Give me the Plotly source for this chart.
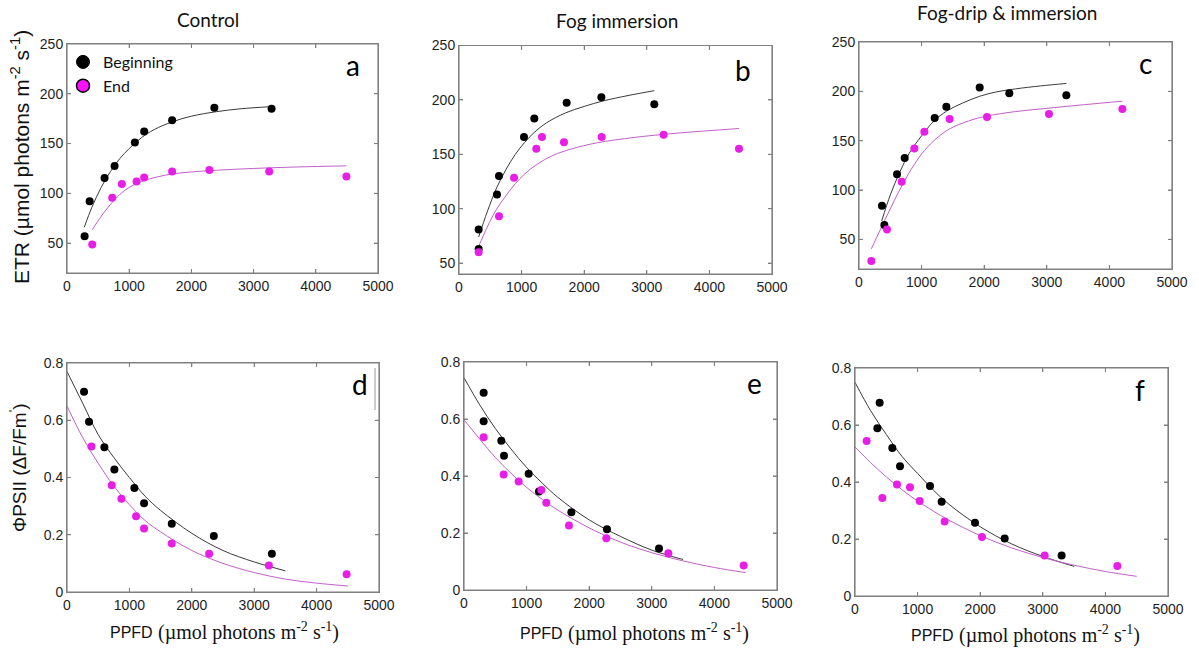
import plotly.graph_objects as go

W, H = 1199, 648

# ---------------- data ----------------
a_beg_x = [283, 364, 604, 765, 1091, 1241, 1690, 2369, 3289]
a_beg_y = [57, 92, 115.5, 127.5, 151, 162, 173.5, 186, 185]
a_end_x = [406, 727, 882, 1118, 1241, 1690, 2289, 3251, 4492]
a_end_y = [48.5, 95.5, 109.5, 112, 116, 122, 123.5, 122, 117]
a_fitb_x = [278, 400, 550, 700, 850, 1000, 1200, 1400, 1700, 2000, 2400, 2800, 3262]
a_fitb_y = [66, 86, 106, 122, 135, 145, 156, 164, 172, 177.5, 182, 185, 187]
a_fite_x = [406, 550, 700, 850, 1000, 1200, 1450, 1700, 2000, 2400, 3000, 3700, 4492]
a_fite_y = [63.4, 77, 89, 99, 106, 112, 116.5, 119.5, 121.5, 123.2, 125, 126.5, 127.6]

b_beg_x = [314, 314, 607, 639, 1038, 1203, 1720, 2274, 3120]
b_beg_y = [81, 63, 113, 130, 166, 183, 197.5, 202.5, 196]
b_end_x = [314, 639, 879, 1235, 1326, 1677, 2279, 3269, 4473]
b_end_y = [60, 93, 128.5, 155, 166, 161, 166, 168, 155]
b_fitb_x = [314, 450, 600, 750, 900, 1050, 1200, 1400, 1700, 2000, 2300, 2700, 3120]
b_fitb_y = [74, 97, 119, 136, 150, 161, 170, 179, 188, 194, 199, 204, 208.5]
b_fite_x = [314, 450, 600, 750, 900, 1050, 1250, 1500, 1800, 2200, 2800, 3500, 4473]
b_fite_y = [65.3, 83, 99.5, 112, 123, 132, 141, 149, 155, 160.5, 165.5, 169.5, 173.7]

c_beg_x = [367, 405, 607, 730, 1209, 1395, 1928, 2401, 3312]
c_beg_y = [84, 64.5, 116, 132.5, 173, 184.5, 204, 198, 196]
c_end_x = [197, 447, 682, 884, 1044, 1448, 2045, 3035, 4207]
c_end_y = [28, 60, 108.5, 142, 159, 172, 174, 177, 182]
c_fitb_x = [362, 500, 650, 800, 1000, 1200, 1400, 1650, 1928, 2200, 2500, 2900, 3312]
c_fitb_y = [68.6, 95, 118, 137, 155, 170, 180, 188, 195, 199.5, 202.5, 205.5, 208]
c_fite_x = [197, 447, 682, 884, 1044, 1250, 1448, 1750, 2045, 2500, 3035, 3600, 4207]
c_fite_y = [40.5, 74, 104, 126, 140, 153, 162, 170, 175, 179.5, 183, 186.5, 190]

d_beg_x = [273, 353, 599, 759, 1080, 1235, 1679, 2353, 3283]
d_beg_y = [0.70, 0.595, 0.506, 0.428, 0.363, 0.31, 0.238, 0.196, 0.134]
d_end_x = [392, 717, 872, 1107, 1235, 1679, 2278, 3235, 4481]
d_end_y = [0.508, 0.373, 0.326, 0.265, 0.222, 0.169, 0.134, 0.093, 0.062]
d_fitb_x = [0, 250, 500, 750, 1000, 1250, 1500, 2000, 2500, 3000, 3500]
d_fitb_y = [0.77, 0.66, 0.55, 0.47, 0.40, 0.335, 0.285, 0.205, 0.145, 0.105, 0.074]
d_fite_x = [0, 250, 500, 750, 1000, 1250, 1500, 2000, 2500, 3000, 3500, 4000, 4500]
d_fite_y = [0.65, 0.54, 0.45, 0.37, 0.305, 0.25, 0.21, 0.145, 0.10, 0.068, 0.045, 0.031, 0.021]

e_beg_x = [314, 314, 596, 639, 1033, 1198, 1715, 2284, 3115]
e_beg_y = [0.692, 0.592, 0.524, 0.471, 0.408, 0.346, 0.273, 0.213, 0.146]
e_end_x = [314, 634, 873, 1235, 1315, 1677, 2274, 3264, 4468]
e_end_y = [0.536, 0.405, 0.381, 0.351, 0.306, 0.226, 0.182, 0.129, 0.086]
e_fitb_x = [0, 250, 500, 750, 1000, 1250, 1500, 2000, 2500, 3000, 3500]
e_fitb_y = [0.745, 0.65, 0.567, 0.495, 0.43, 0.375, 0.325, 0.246, 0.188, 0.14, 0.107]
e_fite_x = [0, 250, 500, 750, 1000, 1250, 1500, 2000, 2500, 3000, 3500, 4000, 4500]
e_fite_y = [0.597, 0.53, 0.465, 0.41, 0.36, 0.318, 0.28, 0.218, 0.168, 0.131, 0.102, 0.079, 0.061]

f_beg_x = [357, 394, 596, 719, 1198, 1384, 1917, 2391, 3301]
f_beg_y = [0.589, 0.678, 0.519, 0.455, 0.386, 0.331, 0.257, 0.202, 0.142]
f_end_x = [186, 437, 671, 879, 1033, 1432, 2029, 3030, 4191]
f_end_y = [0.544, 0.344, 0.391, 0.382, 0.333, 0.261, 0.207, 0.142, 0.105]
f_fitb_x = [0, 250, 500, 750, 1000, 1250, 1500, 2000, 2500, 3000, 3500]
f_fitb_y = [0.75, 0.65, 0.567, 0.49, 0.43, 0.372, 0.322, 0.243, 0.183, 0.139, 0.104]
f_fite_x = [0, 250, 500, 750, 1000, 1250, 1500, 2000, 2500, 3000, 3500, 4000, 4500]
f_fite_y = [0.523, 0.468, 0.418, 0.373, 0.333, 0.298, 0.266, 0.212, 0.169, 0.135, 0.108, 0.086, 0.069]

column_titles = ["Control", "Fog immersion", "Fog-drip & immersion"]
panel_letters = ["a", "b", "c", "d", "e", "f"]
series_names = ["Beginning", "End"]

# tick values (inner tick marks on the frames)
x_ticks = [1000, 2000, 3000, 4000]
etr_ticks = [50, 100, 150, 200]
phi_ticks = [0.2, 0.4, 0.6]

# ---------------- styling / layout ----------------
BLACK = "#000000"
MAG = "#e61ee6"
FIT_BLACK = "#3a3a3a"
FIT_MAG = "#c060c8"
AXCOL = "#808080"
SANS = "Liberation Sans, Arial, sans-serif"
SERIF = "Liberation Serif, Times New Roman, serif"
CAL = "Lato, Open Sans, sans-serif"

boxes = [
    (67, 378, 44, 273),
    (459, 772, 45.5, 274),
    (859, 1172, 42, 269),
    (67, 379, 363, 592),
    (464, 777, 362, 590),
    (855, 1168, 368, 596),
]
yranges = [[20, 250], [40, 250], [20, 250], [0, 0.8], [0, 0.8], [0, 0.8]]
ydticks = [50, 50, 50, 0.2, 0.2, 0.2]
yticks_list = [etr_ticks, etr_ticks, etr_ticks, phi_ticks, phi_ticks, phi_ticks]

panels = [
    (a_beg_x, a_beg_y, a_end_x, a_end_y, a_fitb_x, a_fitb_y, a_fite_x, a_fite_y),
    (b_beg_x, b_beg_y, b_end_x, b_end_y, b_fitb_x, b_fitb_y, b_fite_x, b_fite_y),
    (c_beg_x, c_beg_y, c_end_x, c_end_y, c_fitb_x, c_fitb_y, c_fite_x, c_fite_y),
    (d_beg_x, d_beg_y, d_end_x, d_end_y, d_fitb_x, d_fitb_y, d_fite_x, d_fite_y),
    (e_beg_x, e_beg_y, e_end_x, e_end_y, e_fitb_x, e_fitb_y, e_fite_x, e_fite_y),
    (f_beg_x, f_beg_y, f_end_x, f_end_y, f_fitb_x, f_fitb_y, f_fite_x, f_fite_y),
]

fig = go.Figure()
layout = dict(
    template="none",
    width=W, height=H, margin=dict(l=0, r=0, t=0, b=0, pad=0, autoexpand=False),
    paper_bgcolor="white", plot_bgcolor="rgba(0,0,0,0)",
    showlegend=True,
)
shapes = []
TL = 4  # tick length in px

for i, (bx, by, ex, ey, fbx, fby, fex, fey) in enumerate(panels):
    n = i + 1
    xa = "x" if n == 1 else f"x{n}"
    ya = "y" if n == 1 else f"y{n}"
    x0, x1, yt, yb = boxes[i]
    axkw = dict(showline=True, linecolor=AXCOL, linewidth=1, mirror="allticks",
                ticks="inside", ticklen=TL, tickwidth=1, tickcolor=AXCOL, showgrid=False,
                zeroline=False, automargin=False,
                tickfont=dict(family=SANS, size=14, color="#1e1e1e"))
    layout["xaxis" if n == 1 else f"xaxis{n}"] = dict(
        domain=[x0 / W, x1 / W], anchor=ya, range=[0, 5000], dtick=1000, tick0=0, **axkw)
    layout["yaxis" if n == 1 else f"yaxis{n}"] = dict(
        domain=[1 - yb / H, 1 - yt / H], anchor=xa, range=yranges[i],
        dtick=ydticks[i], tick0=0, **axkw)
    shapes.append(dict(type="rect", xref=f"{xa} domain", yref=f"{ya} domain",
                       x0=0, x1=1, y0=0, y1=1, line=dict(color=AXCOL, width=1.2),
                       fillcolor="rgba(0,0,0,0)", layer="above"))
    fx = TL / (x1 - x0)
    fy = TL / (yb - yt)
    for tv in x_ticks:
        for (ya0, ya1) in [(0, fy), (1 - fy, 1)]:
            shapes.append(dict(type="line", xref=xa, yref=f"{ya} domain", x0=tv, x1=tv,
                               y0=ya0, y1=ya1, line=dict(color=AXCOL, width=1), layer="above"))
    for tv in yticks_list[i]:
        for (xa0, xa1) in [(0, fx), (1 - fx, 1)]:
            shapes.append(dict(type="line", xref=f"{xa} domain", yref=ya, x0=xa0, x1=xa1,
                               y0=tv, y1=tv, line=dict(color=AXCOL, width=1), layer="above"))

    fig.add_trace(go.Scatter(x=fbx, y=fby, mode="lines", line=dict(color=FIT_BLACK, width=1, shape="spline"),
                             xaxis=xa, yaxis=ya, showlegend=False, hoverinfo="skip"))
    fig.add_trace(go.Scatter(x=fex, y=fey, mode="lines", line=dict(color=FIT_MAG, width=1, shape="spline"),
                             xaxis=xa, yaxis=ya, showlegend=False, hoverinfo="skip"))
    fig.add_trace(go.Scatter(x=bx, y=by, mode="markers", marker=dict(color=BLACK, size=8),
                             xaxis=xa, yaxis=ya, showlegend=False, name=series_names[0]))
    fig.add_trace(go.Scatter(x=ex, y=ey, mode="markers", marker=dict(color=MAG, size=8),
                             xaxis=xa, yaxis=ya, showlegend=False, name=series_names[1]))

fig.add_trace(go.Scatter(x=[None], y=[None], mode="markers", name=series_names[0],
                         marker=dict(color=BLACK, size=13, line=dict(color=BLACK, width=1))))
fig.add_trace(go.Scatter(x=[None], y=[None], mode="markers", name=series_names[1],
                         marker=dict(color="#ff10ff", size=13, line=dict(color=BLACK, width=1.5))))
layout["legend"] = dict(x=63 / W, y=1 - 45 / H, xanchor="left", yanchor="top",
                        bgcolor="rgba(0,0,0,0)", font=dict(family=CAL, size=16, color="#111"),
                        itemwidth=30, tracegroupgap=0)

ann = []
for txt, cx, cy in zip(column_titles, [208, 617, 1007], [19, 20, 13]):
    ann.append(dict(text=txt, x=cx / W, y=1 - cy / H, xref="paper", yref="paper",
                    showarrow=False, font=dict(family=CAL, size=19, color="#111"),
                    xanchor="center", yanchor="middle"))
for L, (lx, ly) in zip(panel_letters, [(353, 65), (743, 70), (1145, 63), (360, 384), (754, 383), (1140, 390)]):
    ann.append(dict(text=L, x=lx / W, y=1 - ly / H, xref="paper", yref="paper", showarrow=False,
                    font=dict(family=CAL, size=28, color="#000"), xanchor="center", yanchor="middle"))
ann.append(dict(text="ETR (µmol photons m<sup>-2</sup> s<sup>-1</sup>)", x=20 / W, y=1 - 157 / H,
                xref="paper", yref="paper", showarrow=False, textangle=-90,
                font=dict(family=SANS, size=21, color="#111"), xanchor="center", yanchor="middle"))
ann.append(dict(text="ΦPSII (ΔF/Fm<sup>'</sup>)", x=18 / W, y=1 - 468 / H,
                xref="paper", yref="paper", showarrow=False, textangle=-90,
                font=dict(family=SANS, size=19, color="#111"), xanchor="center", yanchor="middle"))
for left, cy in [(112, 632), (522, 633), (913, 635)]:
    ann.append(dict(text="PPFD", x=(left + 42) / W, y=1 - cy / H, xref="paper", yref="paper",
                    showarrow=False, font=dict(family=SANS, size=16, color="#111"),
                    xanchor="right", yanchor="middle", borderpad=0))
    ann.append(dict(text="(µmol photons m<sup>-2</sup> s<sup>-1</sup>)", x=(left + 45) / W,
                    y=1 - (cy - 1) / H, xref="paper", yref="paper", showarrow=False,
                    font=dict(family=SERIF, size=20, color="#111"),
                    xanchor="left", yanchor="middle", borderpad=0))
layout["annotations"] = ann

shapes.append(dict(type="line", xref="paper", yref="paper", x0=375 / W, x1=375 / W,
                   y0=1 - 410 / H, y1=1 - 368 / H, line=dict(color="#999", width=1)))
layout["shapes"] = shapes

fig.update_layout(**layout)
fig.write_html(
    "out.html",
    config={"displayModeBar": False},
    post_script="document.documentElement.style.margin='0';document.body.style.margin='0';"
                "document.body.style.padding='0';document.body.style.overflow='hidden';",
)
